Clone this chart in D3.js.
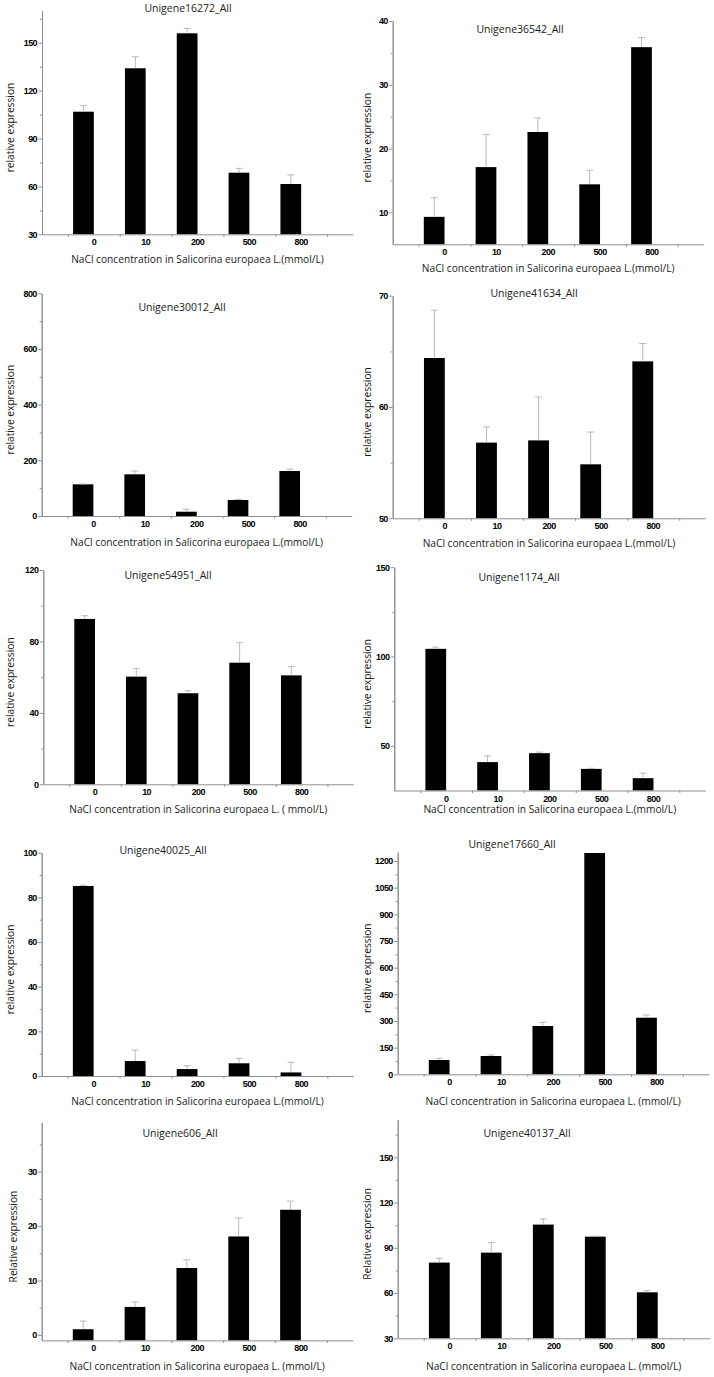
<!DOCTYPE html>
<html>
<head>
<meta charset="utf-8">
<script src="https://cdn.jsdelivr.net/npm/d3@7"></script>
<style>
  body { margin: 0; background: #fff; }
  svg { display: block; }
</style>
</head>
<body>
<div id="chart"></div>
<script>
const concentrations = ["0", "10", "200", "500", "800"];

const genes = ["Unigene16272_All", "Unigene36542_All", "Unigene30012_All", "Unigene41634_All",
  "Unigene54951_All", "Unigene1174_All", "Unigene40025_All", "Unigene17660_All",
  "Unigene606_All", "Unigene40137_All"];

// mean relative expression and error for each gene (one value per concentration)
const u16272 = [106.8, 134.0, 155.9, 68.6, 61.5];
const u16272Err = [3.8, 7.2, 3.1, 2.7, 5.7];
const u36542 = [9.3, 17.1, 22.6, 14.4, 35.9];
const u36542Err = [3.0, 5.1, 2.2, 2.2, 1.5];
const u30012 = [113.8, 149.7, 15.4, 57.5, 161.6];
const u30012Err = [1.0, 12.0, 9.0, 2.0, 7.0];
const u41634 = [64.4, 56.8, 57.0, 54.85, 64.1];
const u41634Err = [4.3, 1.4, 3.9, 2.9, 1.6];
const u54951 = [92.6, 60.3, 51.0, 68.1, 61.0];
const u54951Err = [1.8, 4.6, 1.4, 11.2, 4.9];
const u1174 = [104.3, 40.9, 45.9, 37.1, 31.9];
const u1174Err = [1.0, 3.5, 0.6, 0.3, 2.8];
const u40025 = [85.1, 6.7, 3.1, 5.7, 1.6];
const u40025Err = [0.3, 4.9, 1.5, 2.2, 4.5];
const u17660 = [80.4, 103.0, 271.7, 1245, 318.4];
const u17660Err = [9.4, 5.6, 20.8, 0, 15.0];
const u606 = [1.05, 5.15, 12.3, 18.1, 23.0];
const u606Err = [1.5, 0.9, 1.5, 3.4, 1.6];
const u40137 = [80.2, 86.8, 105.4, 97.4, 60.5];
const u40137Err = [2.9, 6.6, 3.8, 0.3, 1.1];

// y axis domains, labelled ticks and minor tick step
const yDomains = [[30, 170], [5, 40], [0, 800], [50, 70], [0, 120], [25, 150], [0, 100], [0, 1250], [-1, 39], [30, 175]];
const yTicks = [[30, 60, 90, 120, 150], [10, 20, 30, 40], [0, 200, 400, 600, 800], [50, 60, 70], [0, 40, 80, 120],
  [50, 100, 150], [0, 20, 40, 60, 80, 100], [0, 150, 300, 450, 600, 750, 900, 1050, 1200], [0, 10, 20, 30], [30, 60, 90, 120, 150]];
const yMinor = [15, 5, 100, 5, 20, 25, 10, 75, 5, 15];
const yTitles = ["relative expression", "relative expression", "relative expression", "relative expression",
  "relative expression", "relative expression", "relative expression", "relative expression",
  "Relative expression", "Relative expression"];
const xTitles = [
  "NaCl concentration in Salicorina europaea L.(mmol/L)",
  "NaCl concentration in Salicorina europaea L.(mmol/L)",
  "NaCl concentration in Salicorina europaea L.(mmol/L)",
  "NaCl concentration in Salicorina europaea L.(mmol/L)",
  "NaCl concentration in Salicorina europaea L. ( mmol/L)",
  "NaCl concentration in Salicorina europaea L.(mmol/L)",
  "NaCl concentration in Salicorina europaea L.(mmol/L)",
  "NaCl concentration in Salicorina europaea L. (mmol/L)",
  "NaCl concentration in Salicorina europaea L. (mmol/L)",
  "NaCl concentration in Salicorina europaea L. (mmol/L)"];

const means = [u16272, u36542, u30012, u41634, u54951, u1174, u40025, u17660, u606, u40137];
const errs = [u16272Err, u36542Err, u30012Err, u41634Err, u54951Err, u1174Err, u40025Err, u17660Err, u606Err, u40137Err];

// page layout of each panel (plot box, title spot, x title baseline)
const boxes = [
  { l: 42, r: 353, t: 10.8, b: 234.3, tx: 188, ty: 12, xy: 263 },
  { l: 392.7, r: 703.7, t: 21, b: 244.3, tx: 520, ty: 33, xy: 272 },
  { l: 41.7, r: 351.7, t: 293.3, b: 516, tx: 182, ty: 310.5, xy: 545.5 },
  { l: 392.7, r: 705.3, t: 295.7, b: 518.3, tx: 534, ty: 297, xy: 547 },
  { l: 43.3, r: 353.3, t: 570, b: 784.3, tx: 168, ty: 579, xy: 813 },
  { l: 394.3, r: 705.3, t: 567.2, b: 790.5, tx: 519, ty: 580.5, xy: 813 },
  { l: 41.7, r: 353.3, t: 852.7, b: 1076, tx: 163, ty: 854, xy: 1104.5 },
  { l: 397.7, r: 708.7, t: 852.1, b: 1074.3, tx: 512, ty: 848, xy: 1104.5 },
  { l: 41.7, r: 352.7, t: 1122.7, b: 1340.4, tx: 180, ty: 1137, xy: 1370 },
  { l: 397.7, r: 709.7, t: 1119.6, b: 1338.3, tx: 527, ty: 1137, xy: 1369.5 }
];

const W = 714, H = 1377;
const svg = d3.select("#chart").append("svg")
  .attr("width", W)
  .attr("height", H);

const axisColor = "#8f8f8f";
const textFont = "'Open Sans', 'Noto Sans', sans-serif";
const tickFont = "'Liberation Sans', Arial, sans-serif";
const tickSize = 9;

boxes.forEach((bx, i) => {
  const g = svg.append("g");

  const x = d3.scaleLinear().domain([0, 6]).range([bx.l, bx.r]);
  const y = d3.scaleLinear().domain(yDomains[i]).range([bx.b, bx.t]);

  const rows = concentrations.map((c, k) => ({ c, pos: k + 1, v: means[i][k], e: errs[i][k] }));

  // bars sit just left of their label
  g.selectAll(".bar")
    .data(rows)
    .enter()
    .append("rect")
    .attr("class", "bar")
    .attr("x", d => x(d.pos - 0.4))
    .attr("y", d => y(Math.min(d.v, yDomains[i][1])))
    .attr("width", d => x(d.pos) - x(d.pos - 0.4))
    .attr("height", d => y(yDomains[i][0]) - y(Math.min(d.v, yDomains[i][1])))
    .attr("fill", "#000");

  // error bars (upper half only, lower half is hidden by the bar)
  const eb = g.selectAll(".err")
    .data(rows.filter(d => d.e > 0.2))
    .enter()
    .append("g")
    .attr("class", "err")
    .attr("stroke", "#a8a8a8")
    .attr("stroke-width", 0.8);
  eb.append("line")
    .attr("x1", d => x(d.pos - 0.2))
    .attr("x2", d => x(d.pos - 0.2))
    .attr("y1", d => y(d.v))
    .attr("y2", d => y(d.v + d.e));
  eb.append("line")
    .attr("x1", d => x(d.pos - 0.2) - 3.5)
    .attr("x2", d => x(d.pos - 0.2) + 3.5)
    .attr("y1", d => y(d.v + d.e))
    .attr("y2", d => y(d.v + d.e));

  // x axis: ticks between categories, labels under the bars' right edges
  const xAxis = d3.axisBottom(x)
    .tickValues([0.5, 1.5, 2.5, 3.5, 4.5, 5.5])
    .tickSize(2.5)
    .tickSizeOuter(0)
    .tickFormat("");
  const xg = g.append("g")
    .attr("transform", `translate(0,${bx.b})`)
    .call(xAxis);
  xg.select(".domain").attr("stroke", axisColor);
  xg.selectAll(".tick line").attr("stroke", axisColor);

  g.selectAll(".xlab")
    .data(rows)
    .enter()
    .append("text")
    .attr("class", "xlab")
    .attr("x", d => x(d.pos))
    .attr("y", bx.b + 11)
    .attr("text-anchor", "middle")
    .attr("font-family", tickFont)
    .attr("font-weight", "bold")
    .attr("font-size", tickSize)
    .attr("letter-spacing", -0.6)
    .attr("fill", "#000")
    .text(d => d.c);

  // y axis with minor ticks
  const [y0, y1] = yDomains[i];
  const minors = d3.range(Math.ceil(y0 / yMinor[i]) * yMinor[i], y1 + 0.001, yMinor[i])
    .filter(v => !yTicks[i].includes(v) && v > y0);
  const yMinorAxis = d3.axisLeft(y).tickValues(minors).tickSize(2).tickSizeOuter(0).tickFormat("");
  const ymg = g.append("g")
    .attr("transform", `translate(${bx.l},0)`)
    .call(yMinorAxis);
  ymg.select(".domain").attr("stroke", axisColor);
  ymg.selectAll(".tick line").attr("stroke", axisColor);

  const yAxis = d3.axisLeft(y)
    .tickValues(yTicks[i])
    .tickSize(3.5)
    .tickSizeOuter(0)
    .tickPadding(1.5)
    .tickFormat(d3.format("d"));
  const yg = g.append("g")
    .attr("transform", `translate(${bx.l},0)`)
    .call(yAxis);
  yg.select(".domain").attr("stroke", axisColor);
  yg.selectAll(".tick line").attr("stroke", axisColor);
  yg.selectAll(".tick text")
    .attr("font-family", tickFont)
    .attr("font-weight", "bold")
    .attr("font-size", tickSize)
    .attr("letter-spacing", -0.6)
    .attr("fill", "#000");

  // titles
  g.append("text")
    .attr("x", bx.tx)
    .attr("y", bx.ty)
    .attr("text-anchor", "middle")
    .attr("font-family", textFont)
    .attr("font-size", 10.5)
    .attr("fill", "#1a1a1a")
    .text(genes[i]);

  g.append("text")
    .attr("x", (bx.l + bx.r) / 2)
    .attr("y", bx.xy)
    .attr("text-anchor", "middle")
    .attr("font-family", textFont)
    .attr("font-size", 10.2)
    .attr("fill", "#1a1a1a")
    .text(xTitles[i]);

  const ymid = (bx.t + bx.b) / 2 + 5;
  const ylx = (i % 2 === 0 ? 0 : 357) + (i === 8 ? 17 : 14);
  g.append("text")
    .attr("transform", `translate(${ylx},${ymid}) rotate(-90)`)
    .attr("text-anchor", "middle")
    .attr("font-family", textFont)
    .attr("font-size", 10.2)
    .attr("fill", "#1a1a1a")
    .text(yTitles[i]);
});
</script>
</body>
</html>
